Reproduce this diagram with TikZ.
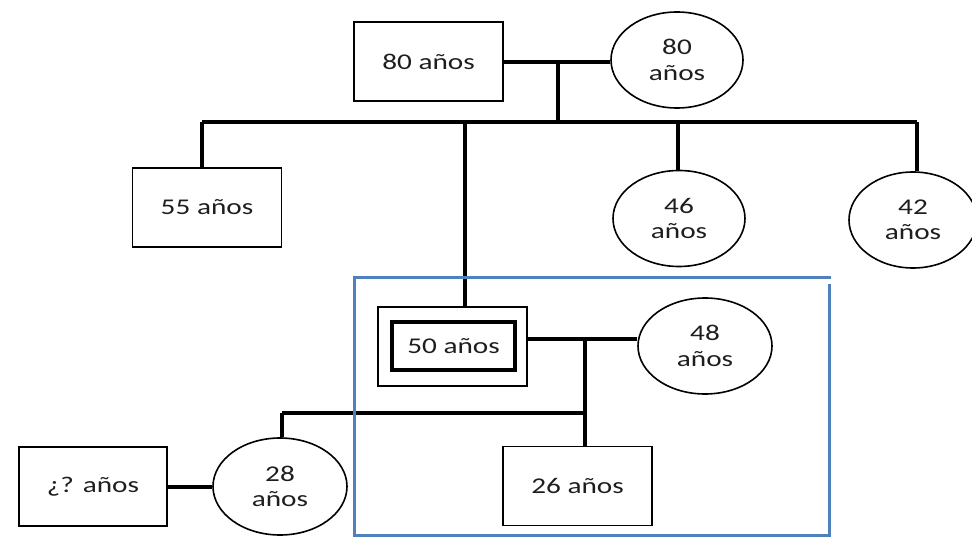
\documentclass[tikz,border=0pt]{standalone}
\usepackage{fontspec}
\setmainfont[FakeStretch=1.3]{Carlito}
\usetikzlibrary{shapes.geometric}
\definecolor{blueframe}{RGB}{79,129,189}
\definecolor{txt}{RGB}{30,30,30}
\tikzset{
  box/.style={draw, line width=1.8pt, rectangle, minimum width=#1, minimum height=79pt, inner sep=0pt, text=txt, font=\fontsize{22.5}{25.5}\selectfont},
  box/.default=149pt,
  person/.style={draw, line width=1.6pt, ellipse, minimum width=132pt, minimum height=96pt, inner sep=0pt, align=center, text=txt, font=\fontsize{22.5}{25.5}\selectfont},
  link/.style={line width=3.4pt},
  frame/.style={draw=blueframe, line width=3pt}
}
\begin{document}
\begin{tikzpicture}[x=1pt,y=-1pt]
\useasboundingbox (0,0) rectangle (972,548);
% nodes
\node[box] (b80) at (428.5,61.5) {80 años};
\node[person] (e80) at (677,60) {80\\años};
\node[box] (b55) at (207,207.5) {55 años};
\node[person] (e46) at (679,218.5) {46\\años};
\node[person, minimum width=128pt] (e42) at (913,220) {42\\años};
\node[box] (b50o) at (452.5,346.5) {};
\node[draw, line width=3.5pt, minimum width=123pt, minimum height=48pt, inner sep=0pt, text=txt, font=\fontsize{22.5}{25.5}\selectfont] (b50) at (453.5,346) {50 años};
\node[person, minimum width=134pt] (e48) at (705,346) {48\\años};
\node[box] (b26) at (577.5,486) {26 años};
\node[person, minimum width=134pt, minimum height=97pt] (e28) at (280,486.5) {28\\años};
\node[box=148pt] (bq) at (93,486.5) {¿? años};
% junction coordinates
\coordinate (j1) at (558,62);
\coordinate (j1b) at (558,122);
\coordinate (barL) at (202,122);
\coordinate (barR) at (917,122);
\coordinate (j2) at (585,339);
\coordinate (j2b) at (585,413);
\coordinate (barL2) at (282,413);
% connectors
\draw[link] (b80.east |- j1) -- (e80.west |- j1);
\draw[link] (j1) -- (j1b);
\draw[link] (barL) -- (barR);
\draw[link] (barL) -- (barL |- b55.north);
\draw[link] (678,122) -- (678,0 |- e46.north);
\draw[link] (barR) -- (barR |- e42.north);
\draw[link] (465,122) -- (465,0 |- b50o.north);
\draw[link] (b50o.east |- j2) -- (e48.west |- j2);
\draw[link] (j2) -- (j2 |- b26.north);
\draw[link] (barL2) -- (j2b);
\draw[link] (barL2) -- (barL2 |- e28.north);
\draw[link] (bq.east |- 0,487) -- (e28.west |- 0,487);
% family frame
\draw[frame] (829,284) -- (829,535) -- (354,535) -- (354,277) -- (831,277);
\end{tikzpicture}
\end{document}
